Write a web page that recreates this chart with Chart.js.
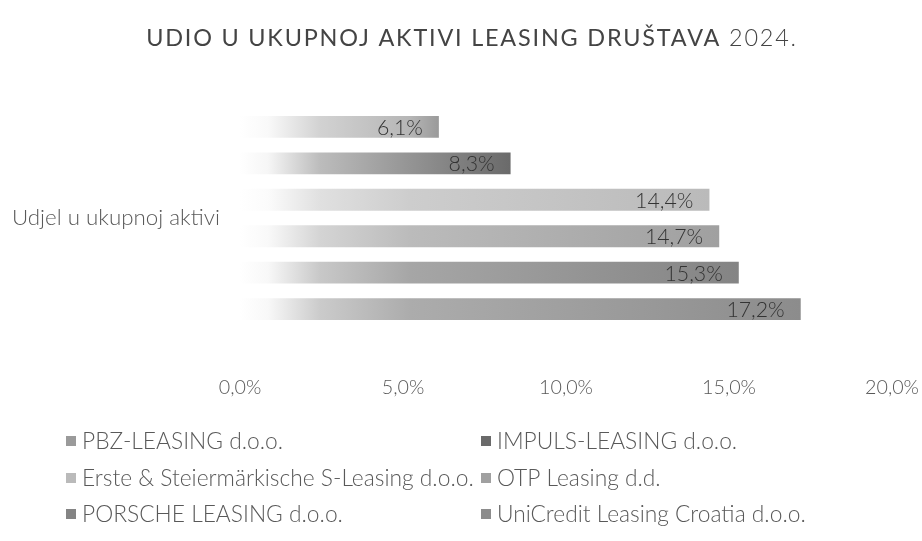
<!DOCTYPE html>
<html><head><meta charset="utf-8">
<script src="https://cdn.jsdelivr.net/npm/chart.js@4"></script>
<style>html,body{margin:0;padding:0;background:#fff}#wrap{width:922px;height:541px;position:relative}</style>
</head><body><div id="wrap"><canvas id="c"></canvas></div>
<script>
const titleMain = 'UDIO U UKUPNOJ AKTIVI LEASING DRUŠTAVA';
const titleYear = '2024.';
const categories = ['Udjel u ukupnoj aktivi'];
const companies = ['PBZ-LEASING d.o.o.', 'IMPULS-LEASING d.o.o.', 'Erste & Steiermärkische S-Leasing d.o.o.', 'OTP Leasing d.d.', 'PORSCHE LEASING d.o.o.', 'UniCredit Leasing Croatia d.o.o.'];
const shares = [6.1, 8.3, 14.4, 14.7, 15.3, 17.2];
const xTicks = [0, 5, 10, 15, 20];
const colors = ['#9a9a9a', '#6a6a6a', '#bababa', '#a0a0a0', '#848484', '#8c8c8c'];

const FONT = "Lato, 'Open Sans', sans-serif";
const TXT = '#595959';

// fit font sizes to the measured widths of the reference texts
const mc = document.createElement('canvas').getContext('2d');
function fitSize(text, target, weight){
  mc.font = (weight || '') + ' 20px ' + FONT;
  return 20 * target / mc.measureText(text).width;
}
const catSize = fitSize(categories[0], 208, '300');
const legSize = fitSize(companies[2], 392, '300');
const tickSize = fitSize('20,0%', 54, '300');
const valSize = fitSize('8,3%', 46, '300');

function hexToRgb(h){return [parseInt(h.slice(1,3),16),parseInt(h.slice(3,5),16),parseInt(h.slice(5,7),16)];}
function mixWhite(h, t){
  const c = hexToRgb(h);
  return 'rgb(' + c.map(v => Math.round(255 + (v - 255) * t)).join(',') + ')';
}
function barFill(ctx){
  const chart = ctx.chart;
  const i = ctx.datasetIndex;
  if (!chart.chartArea || !chart.scales.x) return colors[i];
  const xs = chart.scales.x;
  const x0 = xs.getPixelForValue(0);
  const x1 = xs.getPixelForValue(chart.data.datasets[i].data[0]);
  const len = Math.max(1, x1 - x0);
  const g = chart.ctx.createLinearGradient(x0, 0, x1, 0);
  const f = px => Math.min(0.99, px / len);
  g.addColorStop(0, 'rgb(255,255,255)');
  g.addColorStop(f(28), mixWhite(colors[i], 0.06));
  g.addColorStop(f(80), mixWhite(colors[i], 0.45));
  g.addColorStop(f(170), mixWhite(colors[i], 0.72));
  g.addColorStop(1, colors[i]);
  return g;
}

const titlePlugin = {
  id: 'customTitle',
  afterDraw(chart){
    const c = chart.ctx;
    c.save();
    c.fillStyle = '#444444';
    c.textBaseline = 'middle';
    c.textAlign = 'left';
    const sp = 1.8;
    if ('letterSpacing' in c) c.letterSpacing = sp + 'px';
    c.font = "400 24px " + FONT;
    let w1 = c.measureText(titleMain + ' ').width;
    c.font = "300 24px " + FONT;
    let w2 = c.measureText(titleYear).width;
    const s = 650 / (w1 + w2);
    const size = 24 * s;
    c.font = "400 " + size + "px " + FONT;
    w1 = c.measureText(titleMain + ' ').width;
    c.font = "300 " + size + "px " + FONT;
    w2 = c.measureText(titleYear).width;
    const start = 472 - (w1 + w2) / 2;
    c.font = "400 " + size + "px " + FONT;
    c.fillText(titleMain + ' ', start, 38);
    c.font = "300 " + size + "px " + FONT;
    c.fillText(titleYear, start + w1, 38);
    c.restore();
  }
};

const labelPlugin = {
  id: 'valueLabels',
  afterDatasetsDraw(chart){
    const c = chart.ctx;
    c.save();
    c.font = "300 " + valSize + "px " + FONT;
    c.fillStyle = '#333333';
    c.textAlign = 'right';
    c.textBaseline = 'middle';
    chart.data.datasets.forEach((ds, i) => {
      const meta = chart.getDatasetMeta(i);
      meta.data.forEach((el, j) => {
        const v = ds.data[j];
        c.fillText(v.toFixed(1).replace('.', ',') + '%', el.x - 16, el.y + 1);
      });
    });
    c.restore();
  }
};

const legendPlugin = {
  id: 'gridLegend',
  afterDraw(chart){
    const c = chart.ctx;
    const colX = [66, 481];
    const textX = [82, 497];
    const rowY = [441, 478, 514];
    c.save();
    c.font = "300 " + legSize + "px " + FONT;
    c.textBaseline = 'middle';
    c.textAlign = 'left';
    chart.data.datasets.forEach((ds, i) => {
      const col = i % 2, y = rowY[Math.floor(i / 2)];
      c.fillStyle = colors[i];
      c.fillRect(colX[col], y - 5, 10, 10);
      c.fillStyle = TXT;
      c.fillText(ds.label, textX[col], y + 1);
    });
    c.restore();
  }
};

new Chart(document.getElementById('c'), {
  type: 'bar',
  data: {
    labels: categories,
    datasets: companies.map((name, i) => ({
      label: name,
      data: [shares[i]],
      backgroundColor: barFill,
      borderWidth: 0,
      barPercentage: 0.6,
      categoryPercentage: 0.792
    }))
  },
  options: {
    indexAxis: 'y',
    responsive: true,
    maintainAspectRatio: false,
    animation: false,
    layout: { padding: { top: 80, left: 12, right: 30, bottom: 141 } },
    plugins: { legend: { display: false }, title: { display: false }, tooltip: { enabled: false } },
    scales: {
      x: {
        min: xTicks[0], max: xTicks[xTicks.length - 1],
        afterBuildTicks: s => { s.ticks = xTicks.map(v => ({ value: v })); },
        afterFit: s => { s.height = 44; s.paddingLeft = 0; s.paddingRight = 0; },
        ticks: { font: { family: FONT, size: tickSize, weight: '300' }, color: TXT, padding: 20, maxRotation: 0,
          callback: v => Number(v).toFixed(1).replace('.', ',') + '%' },
        grid: { display: false, drawTicks: false },
        border: { display: false }
      },
      y: {
        afterFit: s => { s.width = 228; s.paddingTop = 0; s.paddingBottom = 0; },
        ticks: { crossAlign: 'far', font: { family: FONT, size: catSize, weight: '300' }, color: TXT, padding: 0 },
        grid: { display: false, drawTicks: false },
        border: { display: false }
      }
    }
  },
  plugins: [titlePlugin, labelPlugin, legendPlugin]
});
</script>
</body></html>
